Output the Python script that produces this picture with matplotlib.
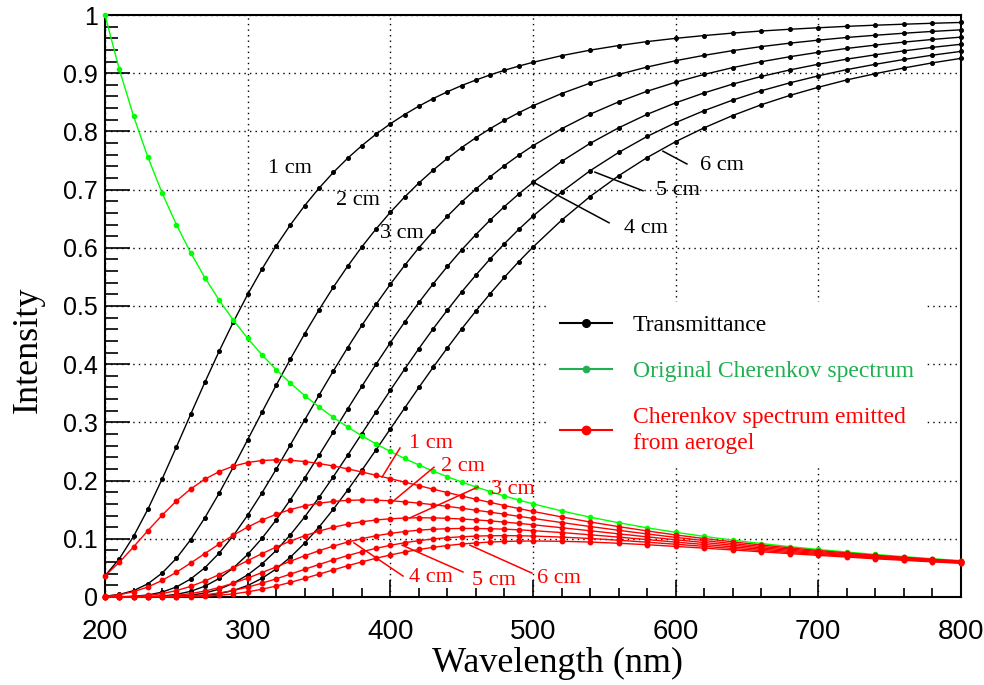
import matplotlib
matplotlib.use('Agg')
import matplotlib.pyplot as plt
from matplotlib.lines import Line2D
from matplotlib.ticker import MultipleLocator, FuncFormatter

wavelength = [200, 210, 220, 230, 240, 250, 260, 270, 280, 290,
              300, 310, 320, 330, 340, 350, 360, 370, 380, 390,
              400, 410, 420, 430, 440, 450, 460, 470, 480, 490,
              500, 520, 540, 560, 580, 600, 620, 640, 660, 680,
              700, 720, 740, 760, 780, 800]

# transmittance of 1..6 cm aerogel
trans_1cm = [0.0364, 0.0655, 0.1041, 0.1505, 0.2024, 0.2575, 0.3136, 0.3689, 0.4222, 0.4727,
             0.5198, 0.5633, 0.6033, 0.6396, 0.6726, 0.7024, 0.7294, 0.7537, 0.7755, 0.7953,
             0.8130, 0.8290, 0.8434, 0.8564, 0.8681, 0.8788, 0.8883, 0.8971, 0.9050, 0.9122,
             0.9187, 0.9301, 0.9396, 0.9475, 0.9543, 0.9599, 0.9647, 0.9689, 0.9725, 0.9755,
             0.9781, 0.9805, 0.9825, 0.9842, 0.9858, 0.9872]
trans_2cm = [0.0013, 0.0043, 0.0108, 0.0226, 0.0410, 0.0663, 0.0983, 0.1361, 0.1782, 0.2234,
             0.2702, 0.3173, 0.3639, 0.4091, 0.4524, 0.4934, 0.5321, 0.5680, 0.6015, 0.6324,
             0.6610, 0.6872, 0.7113, 0.7334, 0.7537, 0.7723, 0.7892, 0.8048, 0.8191, 0.8321,
             0.8440, 0.8650, 0.8829, 0.8978, 0.9106, 0.9215, 0.9307, 0.9388, 0.9457, 0.9516,
             0.9568, 0.9614, 0.9652, 0.9687, 0.9718, 0.9745]
trans_3cm = [0.0000, 0.0003, 0.0011, 0.0034, 0.0083, 0.0171, 0.0308, 0.0502, 0.0753, 0.1056,
             0.1405, 0.1788, 0.2195, 0.2617, 0.3043, 0.3466, 0.3881, 0.4281, 0.4665, 0.5029,
             0.5374, 0.5696, 0.6000, 0.6281, 0.6543, 0.6787, 0.7010, 0.7220, 0.7413, 0.7590,
             0.7754, 0.8045, 0.8295, 0.8507, 0.8690, 0.8845, 0.8979, 0.9096, 0.9197, 0.9283,
             0.9359, 0.9426, 0.9483, 0.9534, 0.9580, 0.9620]
trans_4cm = [0.0000, 0.0000, 0.0001, 0.0005, 0.0017, 0.0044, 0.0097, 0.0185, 0.0318, 0.0499,
             0.0730, 0.1007, 0.1324, 0.1674, 0.2047, 0.2435, 0.2831, 0.3227, 0.3618, 0.4000,
             0.4369, 0.4722, 0.5060, 0.5379, 0.5680, 0.5964, 0.6228, 0.6477, 0.6709, 0.6924,
             0.7124, 0.7483, 0.7794, 0.8061, 0.8293, 0.8491, 0.8662, 0.8813, 0.8944, 0.9056,
             0.9154, 0.9242, 0.9316, 0.9384, 0.9444, 0.9497]
trans_5cm = [0.0000, 0.0000, 0.0000, 0.0001, 0.0003, 0.0011, 0.0030, 0.0068, 0.0134, 0.0236,
             0.0380, 0.0567, 0.0799, 0.1070, 0.1377, 0.1710, 0.2065, 0.2432, 0.2806, 0.3181,
             0.3552, 0.3914, 0.4268, 0.4607, 0.4931, 0.5241, 0.5532, 0.5810, 0.6071, 0.6316,
             0.6544, 0.6960, 0.7324, 0.7638, 0.7913, 0.8151, 0.8357, 0.8538, 0.8698, 0.8834,
             0.8954, 0.9062, 0.9153, 0.9236, 0.9310, 0.9375]
trans_6cm = [0.0000, 0.0000, 0.0000, 0.0000, 0.0001, 0.0003, 0.0010, 0.0025, 0.0057, 0.0111,
             0.0197, 0.0320, 0.0482, 0.0685, 0.0926, 0.1201, 0.1506, 0.1833, 0.2176, 0.2529,
             0.2888, 0.3245, 0.3600, 0.3946, 0.4281, 0.4606, 0.4915, 0.5212, 0.5495, 0.5761,
             0.6012, 0.6473, 0.6881, 0.7237, 0.7551, 0.7824, 0.8062, 0.8273, 0.8458, 0.8618,
             0.8758, 0.8885, 0.8992, 0.9090, 0.9178, 0.9255]

cherenkov = [1.0000, 0.9070, 0.8264, 0.7561, 0.6944, 0.6400, 0.5917, 0.5487, 0.5102, 0.4756,
             0.4444, 0.4162, 0.3906, 0.3673, 0.3460, 0.3265, 0.3086, 0.2922, 0.2770, 0.2630,
             0.2500, 0.2380, 0.2268, 0.2163, 0.2066, 0.1975, 0.1890, 0.1811, 0.1736, 0.1666,
             0.1600, 0.1479, 0.1372, 0.1276, 0.1189, 0.1111, 0.1041, 0.0977, 0.0918, 0.0865,
             0.0816, 0.0772, 0.0730, 0.0693, 0.0657, 0.0625]

# Cherenkov spectrum after 1..6 cm of aerogel
emit_1cm = [0.0364, 0.0594, 0.0860, 0.1138, 0.1405, 0.1648, 0.1855, 0.2024, 0.2154, 0.2248,
            0.2310, 0.2345, 0.2356, 0.2349, 0.2327, 0.2293, 0.2251, 0.2202, 0.2148, 0.2091,
            0.2033, 0.1973, 0.1913, 0.1852, 0.1794, 0.1736, 0.1679, 0.1625, 0.1571, 0.1520,
            0.1470, 0.1376, 0.1289, 0.1209, 0.1135, 0.1066, 0.1004, 0.0947, 0.0893, 0.0844,
            0.0798, 0.0757, 0.0717, 0.0682, 0.0648, 0.0617]
emit_2cm = [0.0013, 0.0039, 0.0090, 0.0171, 0.0284, 0.0424, 0.0582, 0.0747, 0.0909, 0.1062,
            0.1201, 0.1321, 0.1421, 0.1503, 0.1565, 0.1611, 0.1642, 0.1660, 0.1666, 0.1663,
            0.1653, 0.1635, 0.1613, 0.1586, 0.1557, 0.1525, 0.1491, 0.1457, 0.1422, 0.1386,
            0.1350, 0.1279, 0.1211, 0.1146, 0.1083, 0.1024, 0.0969, 0.0917, 0.0868, 0.0823,
            0.0781, 0.0742, 0.0705, 0.0671, 0.0638, 0.0609]
emit_3cm = [0.0000, 0.0003, 0.0009, 0.0026, 0.0058, 0.0109, 0.0182, 0.0275, 0.0384, 0.0502,
            0.0624, 0.0744, 0.0858, 0.0961, 0.1053, 0.1132, 0.1198, 0.1251, 0.1292, 0.1323,
            0.1344, 0.1356, 0.1361, 0.1359, 0.1352, 0.1340, 0.1325, 0.1307, 0.1287, 0.1265,
            0.1241, 0.1190, 0.1138, 0.1085, 0.1033, 0.0983, 0.0935, 0.0889, 0.0844, 0.0803,
            0.0764, 0.0728, 0.0692, 0.0661, 0.0629, 0.0601]
emit_4cm = [0.0000, 0.0000, 0.0001, 0.0004, 0.0012, 0.0028, 0.0057, 0.0102, 0.0162, 0.0237,
            0.0324, 0.0419, 0.0517, 0.0615, 0.0708, 0.0795, 0.0874, 0.0943, 0.1002, 0.1052,
            0.1092, 0.1124, 0.1148, 0.1164, 0.1173, 0.1178, 0.1177, 0.1173, 0.1165, 0.1154,
            0.1140, 0.1107, 0.1069, 0.1029, 0.0986, 0.0943, 0.0902, 0.0861, 0.0821, 0.0783,
            0.0747, 0.0713, 0.0680, 0.0650, 0.0620, 0.0594]
emit_5cm = [0.0000, 0.0000, 0.0000, 0.0001, 0.0002, 0.0007, 0.0018, 0.0037, 0.0068, 0.0112,
            0.0169, 0.0236, 0.0312, 0.0393, 0.0476, 0.0558, 0.0637, 0.0711, 0.0777, 0.0836,
            0.0888, 0.0932, 0.0968, 0.0997, 0.1019, 0.1035, 0.1046, 0.1052, 0.1054, 0.1052,
            0.1047, 0.1029, 0.1005, 0.0975, 0.0941, 0.0906, 0.0870, 0.0834, 0.0798, 0.0764,
            0.0731, 0.0700, 0.0668, 0.0640, 0.0612, 0.0586]
emit_6cm = [0.0000, 0.0000, 0.0000, 0.0000, 0.0000, 0.0002, 0.0006, 0.0014, 0.0029, 0.0053,
            0.0088, 0.0133, 0.0188, 0.0251, 0.0320, 0.0392, 0.0465, 0.0536, 0.0603, 0.0665,
            0.0722, 0.0772, 0.0816, 0.0853, 0.0884, 0.0910, 0.0929, 0.0944, 0.0954, 0.0960,
            0.0962, 0.0957, 0.0944, 0.0923, 0.0898, 0.0869, 0.0839, 0.0808, 0.0776, 0.0745,
            0.0715, 0.0686, 0.0656, 0.0630, 0.0603, 0.0578]

transmittance = [trans_1cm, trans_2cm, trans_3cm, trans_4cm, trans_5cm, trans_6cm]
emitted = [emit_1cm, emit_2cm, emit_3cm, emit_4cm, emit_5cm, emit_6cm]

serif = ['Liberation Serif', 'DejaVu Serif']
sans = ['Liberation Sans', 'DejaVu Sans']
narrow = ['Liberation Sans Narrow', 'Liberation Sans', 'DejaVu Sans']

fig = plt.figure(figsize=(9.84, 6.85), dpi=100)
ax = fig.add_axes([0.1067, 0.1285, 0.8699, 0.8496])

for t in transmittance:
    ax.plot(wavelength, t, color='black', lw=1.0, marker='o', markersize=2.6,
            zorder=3, clip_on=False)
ax.plot(wavelength, cherenkov, color='#00ff00', lw=1.0, marker='o', markersize=3,
        zorder=4, clip_on=False)
for e in emitted:
    ax.plot(wavelength, e, color='red', lw=1.0, marker='o', markersize=3.2,
            zorder=5, clip_on=False)

ax.set_xlim(200, 800)
ax.set_ylim(0, 1)
ax.xaxis.set_major_locator(MultipleLocator(100))
ax.xaxis.set_minor_locator(MultipleLocator(20))
ax.yaxis.set_major_locator(MultipleLocator(0.1))
ax.yaxis.set_minor_locator(MultipleLocator(0.02))
ax.yaxis.set_major_formatter(FuncFormatter(lambda v, p: f'{v:g}'))

ax.tick_params(which='both', direction='in', top=False, right=False, width=1.2)
ax.tick_params(axis='x', which='major', length=12, pad=16, labelsize=20)
ax.tick_params(axis='x', which='minor', length=6.5)
ax.tick_params(axis='y', which='major', length=18, pad=5, labelsize=18)
ax.tick_params(axis='y', which='minor', length=9.5)
plt.setp(ax.get_xticklabels(), family=narrow)
plt.setp(ax.get_yticklabels(), family=sans)

ax.grid(True, which='major', color='black', linestyle=(0, (1, 3)), linewidth=1.0)
for sp in ax.spines.values():
    sp.set_linewidth(1.5)

ax.set_xlabel('Wavelength (nm)', fontsize=26, family=serif)
ax.xaxis.set_label_coords(0.529, -0.114)
ax.xaxis.label.set_va('center')
ax.set_ylabel('Intensity', fontsize=26, family=serif)
ax.yaxis.set_label_coords(-0.090, 0.424)
ax.yaxis.label.set_va('center')

# curve labels
black_labels = [('1 cm', 329.7, 0.737), ('2 cm', 377.3, 0.682), ('3 cm', 408.2, 0.625),
                ('4 cm', 579.2, 0.634), ('5 cm', 601.6, 0.698), ('6 cm', 632.5, 0.742)]
for s, x, y in black_labels:
    ax.text(x, y, s, ha='center', va='center', fontsize=16, family=serif, color='black', zorder=6)
black_leaders = [((500.0, 553.3), (0.713, 0.643)),
                 ((543.4, 577.1), (0.730, 0.698)),
                 ((591.1, 607.9), (0.766, 0.744))]
for xs, ys in black_leaders:
    ax.plot(xs, ys, color='black', lw=1.1, zorder=6)

red_labels = [('1 cm', 428.5, 0.263), ('2 cm', 450.9, 0.225), ('3 cm', 486.0, 0.184),
              ('4 cm', 428.5, 0.033), ('5 cm', 472.7, 0.029), ('6 cm', 518.2, 0.031)]
for s, x, y in red_labels:
    ax.text(x, y, s, ha='center', va='center', fontsize=16, family=serif, color='red', zorder=6)
red_leaders = [((394.2, 406.8), (0.206, 0.256)),
               ((401.2, 430.6), (0.163, 0.223)),
               ((413.8, 461.4), (0.136, 0.189)),
               ((374.5, 408.9), (0.093, 0.036)),
               ((408.2, 450.9), (0.089, 0.043)),
               ((455.8, 499.3), (0.089, 0.041))]
for xs, ys in red_leaders:
    ax.plot(xs, ys, color='red', lw=1.1, zorder=6)

handles = [Line2D([], [], color='black', lw=1.5, marker='o', markersize=5.5),
           Line2D([], [], color='#1fb050', lw=1.5, marker='o', markersize=4.5),
           Line2D([], [], color='red', lw=1.5, marker='o', markersize=6)]
labels = ['Transmittance', 'Original Cherenkov spectrum',
          'Cherenkov spectrum emitted\nfrom aerogel']
leg = ax.legend(handles, labels, loc='upper left', bbox_to_anchor=(0.5175, 0.506),
                frameon=True, facecolor='white', edgecolor='none', framealpha=1,
                fancybox=False, prop={'family': serif, 'size': 17}, handlelength=2.2,
                handletextpad=0.9, labelspacing=1.05, borderpad=0.5, borderaxespad=0,
                labelcolor=['black', '#1fb050', 'red'])
for txt in leg.get_texts():
    txt.set_linespacing(1.3)
leg.set_zorder(7)

fig.savefig('out.png', dpi=100)
